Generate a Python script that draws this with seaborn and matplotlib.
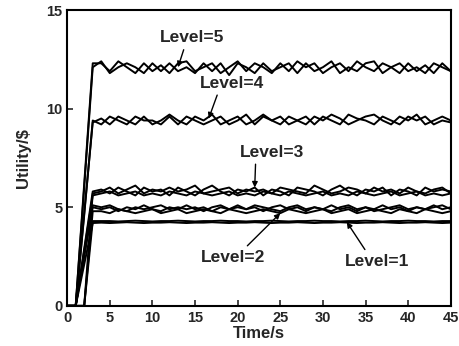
import numpy as np
import pandas as pd
import matplotlib
matplotlib.use("Agg")
import matplotlib.pyplot as plt
import seaborn as sns

# time axis (s)
time_s = list(range(0, 46))

L5a = [0, 0, 6.2, 12.3,
       12.3, 11.9, 12.4, 12.1, 11.8, 12.3, 11.9, 12.2, 11.8, 12.3,
       12.4, 11.9, 12.1, 12.3, 11.8, 12.1, 12.4, 11.9, 12.3, 12.1,
       11.8, 12.3, 11.9, 12.4, 12.1, 12.3, 11.8, 12.1, 12.3, 11.9,
       12.4, 12.1, 11.9, 12.3, 12.1, 11.8, 12.3, 11.9, 12.2, 11.8,
       12.3, 11.9]
L5b = [0, 0, 6.0, 12.1,
       12.4, 11.8, 12.1, 12.3, 12.1, 11.8, 12.3, 11.9, 12.3, 11.9,
       12.1, 11.8, 12.3, 11.9, 12.3, 11.7, 12.3, 12.1, 11.8, 12.3,
       11.9, 12.1, 12.3, 11.8, 12.3, 11.9, 12.1, 12.4, 11.8, 12.1,
       11.9, 12.3, 12.4, 11.8, 12.1, 12.3, 11.9, 12.1, 11.8, 12.3,
       12.1, 11.9]
L4a = [0, 0, 4.7, 9.3,
       9.5, 9.2, 9.6, 9.4, 9.2, 9.6, 9.2, 9.4, 9.7, 9.4,
       9.2, 9.6, 9.4, 9.7, 9.2, 9.4, 9.6, 9.2, 9.4, 9.7,
       9.4, 9.2, 9.6, 9.4, 9.2, 9.6, 9.4, 9.7, 9.5, 9.2,
       9.4, 9.6, 9.7, 9.4, 9.2, 9.6, 9.4, 9.7, 9.2, 9.4,
       9.6, 9.4]
L4b = [0, 0, 4.6, 9.4,
       9.2, 9.6, 9.4, 9.2, 9.6, 9.4, 9.4, 9.2, 9.6, 9.2,
       9.6, 9.4, 9.2, 9.4, 9.6, 9.2, 9.4, 9.7, 9.2, 9.6,
       9.4, 9.6, 9.2, 9.4, 9.6, 9.2, 9.6, 9.4, 9.2, 9.7,
       9.5, 9.4, 9.2, 9.6, 9.4, 9.2, 9.6, 9.4, 9.6, 9.2,
       9.4, 9.3]
L3a = [0, 0, 2.9, 5.8,
       5.9, 5.7, 6.0, 5.8, 5.6, 6.0, 5.8, 5.9, 5.6, 6.0,
       5.8, 5.6, 5.9, 6.1, 5.8, 5.6, 5.9, 5.8, 6.0, 5.6,
       5.9, 5.8, 5.6, 6.0, 5.9, 5.8, 5.6, 5.9, 6.1, 5.8,
       5.6, 5.9, 5.8, 6.0, 5.6, 5.9, 5.8, 5.6, 6.0, 5.8,
       5.9, 5.8]
L3b = [0, 0, 0, 5.7,
       5.8, 6.0, 5.7, 5.9, 6.1, 5.7, 5.9, 5.8, 6.0, 5.8,
       5.9, 6.1, 5.7, 5.8, 5.9, 6.0, 5.7, 5.9, 5.8, 5.9,
       5.7, 6.0, 5.9, 5.8, 5.7, 6.1, 5.9, 5.7, 5.8, 6.0,
       5.9, 5.7, 6.0, 5.8, 5.9, 5.7, 6.0, 5.8, 5.7, 5.9,
       6.0, 5.7]
L3c = [0, 0, 2.8, 5.6,
       5.7, 5.8, 5.6, 5.7, 5.8, 5.6, 5.7, 5.6, 5.8, 5.7,
       5.6, 5.8, 5.7, 5.6, 5.7, 5.8, 5.6, 5.7, 5.6, 5.8,
       5.7, 5.6, 5.8, 5.7, 5.6, 5.7, 5.8, 5.6, 5.7, 5.6,
       5.8, 5.7, 5.6, 5.7, 5.8, 5.6, 5.7, 5.8, 5.6, 5.7,
       5.6, 5.7]
L2a = [0, 0, 2.5, 5.0,
       4.9, 5.0, 4.8, 5.0, 4.9, 5.1, 4.9, 4.8, 5.0, 4.9,
       5.1, 4.9, 5.0, 4.8, 5.0, 4.9, 5.1, 4.9, 5.0, 4.8,
       5.0, 5.1, 4.9, 5.0, 4.8, 5.0, 4.9, 5.1, 4.9, 5.0,
       4.8, 5.0, 4.9, 5.1, 4.9, 5.0, 4.8, 5.0, 4.9, 5.1,
       4.9, 5.0]
L2b = [0, 0, 0, 4.8,
       4.8, 4.7, 4.9, 4.8, 4.7, 4.8, 4.9, 4.7, 4.8, 4.9,
       4.7, 4.8, 4.9, 4.8, 4.7, 4.9, 4.8, 4.7, 4.8, 4.9,
       4.8, 4.7, 4.9, 4.8, 4.7, 4.8, 4.9, 4.7, 4.8, 4.9,
       4.7, 4.8, 4.9, 4.8, 4.7, 4.9, 4.8, 4.7, 4.9, 4.8,
       4.7, 4.8]
L2c = [0, 0, 2.6, 5.1,
       5.0, 5.1, 4.9, 4.8, 5.0, 4.9, 5.0, 5.1, 4.9, 5.0,
       4.9, 5.0, 4.8, 5.0, 5.1, 4.9, 5.0, 4.9, 5.1, 5.0,
       4.9, 4.8, 5.0, 5.1, 4.9, 5.0, 4.9, 4.8, 5.0, 5.1,
       4.9, 5.0, 4.8, 4.9, 5.0, 5.1, 4.9, 5.0, 4.9, 5.0,
       5.1, 4.9]
L1a = [0, 0, 0, 4.3,
       4.3, 4.3, 4.28, 4.3, 4.32, 4.3, 4.28, 4.3, 4.3, 4.32,
       4.3, 4.28, 4.3, 4.3, 4.32, 4.3, 4.3, 4.28, 4.3, 4.3,
       4.32, 4.3, 4.28, 4.3, 4.3, 4.32, 4.3, 4.3, 4.28, 4.3,
       4.3, 4.32, 4.3, 4.28, 4.3, 4.3, 4.32, 4.3, 4.3, 4.28,
       4.3, 4.3]
L1b = [0, 0, 2.1, 4.2,
       4.22, 4.2, 4.22, 4.24, 4.22, 4.2, 4.22, 4.22, 4.24, 4.22,
       4.2, 4.22, 4.22, 4.24, 4.22, 4.2, 4.22, 4.22, 4.24, 4.22,
       4.2, 4.22, 4.22, 4.24, 4.22, 4.2, 4.22, 4.22, 4.24, 4.22,
       4.2, 4.22, 4.22, 4.24, 4.22, 4.2, 4.22, 4.22, 4.24, 4.22,
       4.2, 4.22]

runs = {"L5a": L5a, "L5b": L5b, "L4a": L4a, "L4b": L4b,
        "L3a": L3a, "L3b": L3b, "L3c": L3c,
        "L2a": L2a, "L2b": L2b, "L2c": L2c,
        "L1a": L1a, "L1b": L1b}

x_ticks = [0, 5, 10, 15, 20, 25, 30, 35, 40, 45]
y_ticks = [0, 5, 10, 15]

labels = ["Level=5", "Level=4", "Level=3", "Level=2", "Level=1"]
label_xy = [(14.6, 13.6), (19.3, 11.3), (24.0, 7.8), (19.5, 2.45), (36.4, 2.25)]
arrow_xy = [(13.0, 12.1), (16.6, 9.5), (22.0, 6.0), (25.0, 4.7), (32.8, 4.25)]
relpos = [(0.4, 0.0), (0.3, 0.0), (0.25, 0.0), (0.65, 1.0), (0.35, 1.0)]

rows = []
for name, vals in runs.items():
    assert len(vals) == len(time_s), name
    for t, v in zip(time_s, vals):
        rows.append({"t": t, "u": v, "run": name})
df = pd.DataFrame(rows)

sns.set_style("ticks")
plt.rcParams["font.family"] = ["Liberation Sans", "DejaVu Sans"]
plt.rcParams["font.weight"] = "bold"

fig = plt.figure(figsize=(4.6, 3.46), dpi=100)
ax = fig.add_axes([0.146, 0.116, 0.834, 0.855])

sns.lineplot(data=df, x="t", y="u", units="run", estimator=None,
             color="black", linewidth=1.4, ax=ax, legend=False)

ax.set_xlim(0, 45)
ax.set_ylim(0, 15)
ax.set_xticks(x_ticks)
ax.set_yticks(y_ticks)
ax.tick_params(direction="in", length=4, width=1.2, labelsize=10.5)
for lab in ax.get_xticklabels() + ax.get_yticklabels():
    lab.set_fontweight("bold")
for sp in ax.spines.values():
    sp.set_visible(True)
    sp.set_linewidth(1.5)
    sp.set_color("black")

ax.set_xlabel("Time/s", fontsize=12, fontweight="bold", labelpad=1)
ax.set_ylabel("Utility/\\$", fontsize=12, fontweight="bold", labelpad=11)

for lab, txy, axy, rp in zip(labels, label_xy, arrow_xy, relpos):
    ax.annotate(lab, xy=axy, xytext=txy, ha="center", va="center",
                fontsize=12.5, fontweight="bold",
                arrowprops=dict(arrowstyle="-|>", color="black", lw=1.0,
                                mutation_scale=8, relpos=rp,
                                shrinkA=1, shrinkB=0))

fig.savefig("out.png", dpi=100)
